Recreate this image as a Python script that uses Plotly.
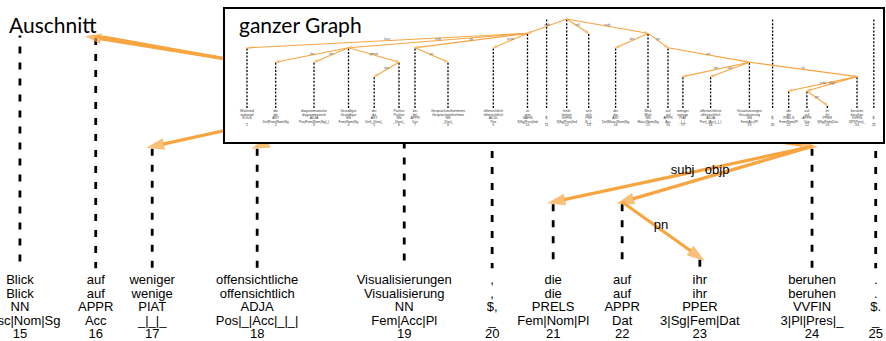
import math
import plotly.graph_objects as go

# ---------------- data: dependency parse of the sentence ----------------
words = ["Während", "die", "diagrammatische", "Grundfigur", "der", "Partitur", "bei",
         "Gesprächsteilnehmern", "offensichtlich", "ist", ",", "lenkt", "sich", "der",
         "Blick", "auf", "weniger", "offensichtliche", "Visualisierungen", ",", "die",
         "auf", "ihr", "beruhen", "."]
lemmas = ["während", "die", "diagrammatisch", "Grundfigur", "die", "Partitur", "bei",
          "Gesprächsteilnehmer", "offensichtlich", "sein", ",", "lenken", "sich", "die",
          "Blick", "auf", "wenige", "offensichtlich", "Visualisierung", ",", "die",
          "auf", "ihr", "beruhen", "."]
pos_tags = ["KOUS", "ART", "ADJA", "NN", "ART", "NN", "APPR", "NN", "ADJD", "VAFIN", "$,",
            "VVFIN", "PRF", "ART", "NN", "APPR", "PIAT", "ADJA", "NN", "$,", "PRELS",
            "APPR", "PPER", "VVFIN", "$."]
morph = ["_", "Def|Fem|Nom|Sg", "Pos|Fem|Nom|Sg|_|", "Fem|Nom|Sg", "Def|_|Gen|_", "_|Gen|_",
         "Dat", "_|Dat|_", "Pos", "3|Sg|Pres|Ind", "_", "3|Sg|Pres|Ind", "3|_|_",
         "Def|Masc|Nom|Sg", "Masc|Nom|Sg", "Acc", "_|_|_", "Pos|_|Acc|_|_|", "Fem|Acc|Pl",
         "_", "Fem|Nom|Pl", "Dat", "3|Sg|Fem|Dat", "3|Pl|Pres|_", "_"]
token_ids = [str(i + 1) for i in range(len(words))]
heads = [10, 4, 4, 10, 6, 4, 10, 7, 10, 12, 0, 0, 12, 15, 12, 15, 19, 19, 16, 0, 24, 24, 22, 19, 0]
deprels = ["konj", "det", "attr", "subj", "det", "gmod", "pp", "pn", "pred", "neb", "", "",
           "refl", "det", "subj", "pp", "det", "attr", "pn", "", "subj", "objp", "pn", "rel", ""]
# horizontal layout of the whole graph (units of the "ganzer Graph" view)
token_x = [247, 275.7, 314, 348.5, 374.2, 399, 415, 448, 493.3, 527.5, 546.6, 566.7, 588.7,
           615.6, 648, 668, 682.9, 710.6, 749.4, 772.6, 788.7, 806.9, 827.4, 857, 873.8]

# ---------------- style / layout constants ----------------
ORANGE = "#F7A541"
FONT = "Liberation Sans, Arial, sans-serif"
TITLE_FONT = "Lato, sans-serif"
W, H = 886, 341

TOP, STEP = 19.0, 14.4          # level spacing in graph units
LINE_START, LINE_BOTTOM = 0.6, 108.2
ROW_Y = [111.4, 115.0, 118.5, 122.0, 125.6]
OVERSHOOT = 1.6
LABEL_UP = 1.0

# main view ("Auschnitt") = zoom of the graph: page = A*x + B, page_y = C*y + D
MAIN_A, MAIN_B = 3.79, -2436.0
MAIN_C, MAIN_D = 3.85, -148.4
MAIN_TOP_PX = 35.5
# inset box (page px)
BOX = dict(x0=225, x1=883, y0=9, y1=142)

n = len(words)


def depth(i):
    d, h = 0, heads[i]
    while h:
        d += 1
        h = heads[h - 1]
    return d


levels = [depth(i) for i in range(n)]
node_y = [TOP + STEP * lv for lv in levels]
rows = [words, lemmas, pos_tags, morph, token_ids]

views = [
    dict(xa="x", ya="y", arc_w=3.2, arrow=19, dash_w=2.8, dash="7px,9px", font=13,
         lab_font=13, lab_col="black", txt_col="black"),
    dict(xa="x2", ya="y2", arc_w=1.1, arrow=5.5, dash_w=1.3, dash="2px,1.6px", font=3.4,
         lab_font=3.3, lab_col="#666666", txt_col="#333333"),
]

fig = go.Figure()

for v in views:
    # dashed token lines
    dx, dy = [], []
    for i in range(n):
        dx += [token_x[i], token_x[i], None]
        dy += [node_y[i] + LINE_START, LINE_BOTTOM, None]
    fig.add_trace(go.Scatter(x=dx, y=dy, mode="lines", xaxis=v["xa"], yaxis=v["ya"],
                             line=dict(color="black", width=v["dash_w"], dash=v["dash"]),
                             hoverinfo="skip", showlegend=False))
    # dependency arcs
    lx, ly, lt = [], [], []
    for i in range(n):
        h = heads[i]
        if h == 0:
            continue
        x0, y0 = token_x[h - 1], node_y[h - 1]
        x1, y1 = token_x[i], node_y[i]
        L = math.hypot(x1 - x0, y1 - y0)
        xe = x1 + (x1 - x0) / L * OVERSHOOT
        ye = y1 + (y1 - y0) / L * OVERSHOOT
        fig.add_trace(go.Scatter(
            x=[x0, xe], y=[y0, ye], mode="lines+markers", xaxis=v["xa"], yaxis=v["ya"],
            line=dict(color=ORANGE, width=v["arc_w"]),
            marker=dict(symbol="arrow", size=[0, v["arrow"]], angleref="previous",
                        color=ORANGE, line=dict(width=0)),
            hoverinfo="skip", showlegend=False))
        lx.append((x0 + x1) / 2)
        ly.append((y0 + y1) / 2 - LABEL_UP)
        lt.append(deprels[i])
    fig.add_trace(go.Scatter(x=lx, y=ly, text=lt, mode="text", xaxis=v["xa"], yaxis=v["ya"],
                             textfont=dict(family=FONT, size=v["lab_font"], color=v["lab_col"]),
                             hoverinfo="skip", showlegend=False))
    # token text rows
    for r, ry in zip(rows, ROW_Y):
        fig.add_trace(go.Scatter(x=token_x, y=[ry] * n, text=r, mode="text",
                                 xaxis=v["xa"], yaxis=v["ya"],
                                 textfont=dict(family=FONT, size=v["font"], color=v["txt_col"]),
                                 hoverinfo="skip", showlegend=False))


# callout arrow from the inset box to the "Auschnitt" title (page px -> main units)
def to_main(px, py):
    return (px - MAIN_B) / MAIN_A, (py - MAIN_D) / MAIN_C


c0 = to_main(226, 58.9)
c1 = to_main(85, 36.2)
fig.add_trace(go.Scatter(x=[c0[0], c1[0]], y=[c0[1], c1[1]], mode="lines+markers",
                         line=dict(color=ORANGE, width=3.2),
                         marker=dict(symbol="arrow", size=[0, 17], angleref="previous",
                                     color=ORANGE, line=dict(width=0)),
                         cliponaxis=False, hoverinfo="skip", showlegend=False))

hidden = dict(visible=False, showgrid=False, zeroline=False)
box_axis = dict(showline=True, mirror=True, linecolor="black", linewidth=2, showgrid=False,
                zeroline=False, showticklabels=False, ticks="")
fig.update_layout(
    width=W, height=H, margin=dict(l=0, r=0, t=0, b=0),
    paper_bgcolor="white", plot_bgcolor="white", showlegend=False,
    xaxis=dict(domain=[0, 1], range=[(0 - MAIN_B) / MAIN_A, (W - MAIN_B) / MAIN_A], **hidden),
    yaxis=dict(domain=[0, 1 - MAIN_TOP_PX / H],
               range=[(H - MAIN_D) / MAIN_C, (MAIN_TOP_PX - MAIN_D) / MAIN_C], **hidden),
    xaxis2=dict(domain=[BOX["x0"] / W, BOX["x1"] / W], range=[BOX["x0"], BOX["x1"]],
                anchor="y2", **box_axis),
    yaxis2=dict(domain=[1 - BOX["y1"] / H, 1 - BOX["y0"] / H], range=[BOX["y1"], BOX["y0"]],
                anchor="x2", **box_axis),
)

fig.add_annotation(text="Auschnitt", xref="paper", yref="paper", x=7 / W, y=1 - 24.5 / H,
                   xanchor="left", yanchor="middle", showarrow=False,
                   font=dict(family=TITLE_FONT, size=21, color="black"))
fig.add_annotation(text="ganzer Graph", xref="x2", yref="y2", x=237, y=24.5,
                   xanchor="left", yanchor="middle", showarrow=False,
                   font=dict(family=TITLE_FONT, size=21, color="black"))

fig.write_html("out.html", config={"displayModeBar": False},
               post_script="document.body.style.margin='0';")
